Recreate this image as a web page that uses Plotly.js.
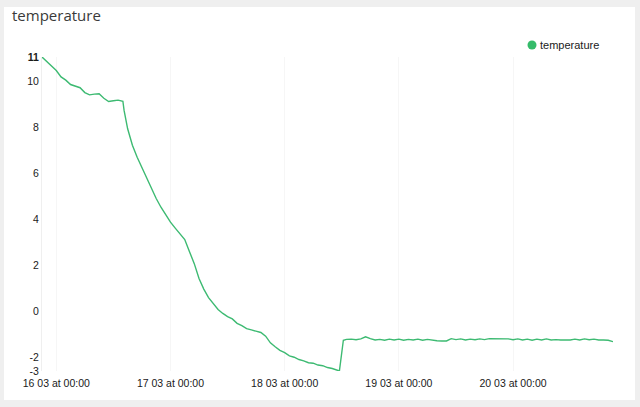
<!DOCTYPE html>
<html>
<head>
<meta charset="utf-8">
<script src="https://cdn.plot.ly/plotly-3.0.1.min.js"></script>
<style>
  html, body { margin: 0; padding: 0; background: #efefef; }
  #card { position: absolute; left: 4px; top: 7px; width: 631px; height: 393px; background: #ffffff; }
  #chart { position: absolute; left: 0; top: 0; width: 640px; height: 407px; }
</style>
</head>
<body>
<div id="card"></div>
<div id="chart"></div>
<script>
const times = [
  "2021-03-15 21:00","2021-03-15 22:00","2021-03-15 23:00",
  "2021-03-16 00:00","2021-03-16 01:00","2021-03-16 02:00","2021-03-16 03:00","2021-03-16 04:00","2021-03-16 05:00",
  "2021-03-16 06:00","2021-03-16 07:00","2021-03-16 08:00","2021-03-16 09:00","2021-03-16 10:00","2021-03-16 11:00",
  "2021-03-16 12:00","2021-03-16 13:00","2021-03-16 14:00","2021-03-16 14:15","2021-03-16 15:00","2021-03-16 16:00",
  "2021-03-16 17:00","2021-03-16 18:00","2021-03-16 19:00","2021-03-16 20:00","2021-03-16 21:00","2021-03-16 22:00","2021-03-16 23:00",
  "2021-03-17 00:00","2021-03-17 01:00","2021-03-17 02:00","2021-03-17 03:00","2021-03-17 04:00","2021-03-17 05:00",
  "2021-03-17 06:00","2021-03-17 07:00","2021-03-17 08:00","2021-03-17 09:00","2021-03-17 10:00","2021-03-17 11:00",
  "2021-03-17 12:00","2021-03-17 13:00","2021-03-17 14:00","2021-03-17 15:00","2021-03-17 16:00","2021-03-17 17:00",
  "2021-03-17 18:00","2021-03-17 19:00","2021-03-17 20:00","2021-03-17 21:00","2021-03-17 22:00","2021-03-17 23:00",
  "2021-03-18 00:00","2021-03-18 01:00","2021-03-18 02:00","2021-03-18 03:00","2021-03-18 04:00","2021-03-18 05:00",
  "2021-03-18 06:00","2021-03-18 07:00","2021-03-18 08:00","2021-03-18 09:00","2021-03-18 10:00","2021-03-18 11:00",
  "2021-03-18 11:30","2021-03-18 12:20","2021-03-18 13:00","2021-03-18 14:00","2021-03-18 15:00","2021-03-18 16:00",
  "2021-03-18 17:00","2021-03-18 18:00","2021-03-18 19:00","2021-03-18 20:00","2021-03-18 21:00","2021-03-18 22:00","2021-03-18 23:00",
  "2021-03-19 00:00","2021-03-19 01:00","2021-03-19 02:00","2021-03-19 03:00","2021-03-19 04:00","2021-03-19 05:00",
  "2021-03-19 06:00","2021-03-19 07:00","2021-03-19 08:00","2021-03-19 09:00","2021-03-19 10:00","2021-03-19 11:00",
  "2021-03-19 12:00","2021-03-19 13:00","2021-03-19 14:00","2021-03-19 15:00","2021-03-19 16:00","2021-03-19 17:00",
  "2021-03-19 18:00","2021-03-19 19:00","2021-03-19 20:00","2021-03-19 21:00","2021-03-19 22:00","2021-03-19 23:00",
  "2021-03-20 00:00","2021-03-20 01:00","2021-03-20 02:00","2021-03-20 03:00","2021-03-20 04:00","2021-03-20 05:00",
  "2021-03-20 06:00","2021-03-20 07:00","2021-03-20 08:00","2021-03-20 09:00","2021-03-20 10:00","2021-03-20 11:00",
  "2021-03-20 12:00","2021-03-20 13:00","2021-03-20 14:00","2021-03-20 15:00","2021-03-20 16:00","2021-03-20 17:00",
  "2021-03-20 18:00","2021-03-20 19:00","2021-03-20 20:00","2021-03-20 21:00"
];
const temperature = [
  11.08, 10.89, 10.70,
  10.49, 10.21, 10.07, 9.88, 9.81, 9.74,
  9.53, 9.43, 9.46, 9.48, 9.28, 9.14,
  9.17, 9.20, 9.15, 8.75, 7.95, 7.23,
  6.71, 6.26, 5.77, 5.31, 4.91, 4.53, 4.19,
  3.88, 3.62, 3.35, 3.12, 2.59, 2.07,
  1.42, 0.96, 0.59, 0.31, 0.07, -0.10,
  -0.24, -0.34, -0.53, -0.63, -0.76, -0.82,
  -0.87, -0.93, -1.09, -1.38, -1.55, -1.71,
  -1.81, -1.95, -2.01, -2.11, -2.17, -2.25,
  -2.27, -2.35, -2.38, -2.46, -2.50, -2.58,
  -2.61, -1.27, -1.23, -1.22, -1.25, -1.21,
  -1.12, -1.20, -1.26, -1.23, -1.27, -1.22, -1.26,
  -1.22, -1.27, -1.23, -1.26, -1.22, -1.27,
  -1.23, -1.27, -1.29, -1.30, -1.30, -1.20,
  -1.24, -1.21, -1.26, -1.22, -1.25, -1.21,
  -1.24, -1.20, -1.20, -1.21, -1.20, -1.21,
  -1.25, -1.21, -1.26, -1.22, -1.27, -1.22,
  -1.26, -1.21, -1.26, -1.24, -1.26, -1.26,
  -1.26, -1.22, -1.26, -1.21, -1.25, -1.22,
  -1.26, -1.26, -1.27, -1.33
];
const xTickVals = ["2021-03-16 00:00","2021-03-17 00:00","2021-03-18 00:00","2021-03-19 00:00","2021-03-20 00:00"];
const yTickVals = [-2.61, -2, 0, 2, 4, 6, 8, 10, 11.08];
const yTickText = ["-3", "-2", "0", "2", "4", "6", "8", "10", "<b>11</b>"];
const seriesName = "temperature";
const chartTitle = "temperature";

const green = "#3dba72";
const tickFont = {family: "Liberation Sans Narrow, Arial Narrow, Liberation Sans, Arial, sans-serif", size: 10.5, color: "#1a1a1a"};

const data = [
  {x: times, y: temperature, type: "scatter", mode: "lines", name: seriesName,
   line: {color: green, width: 1.4}, showlegend: false, hoverinfo: "x+y"}
];

// legend: plot area spans x 42..613 px, y 57..371 px
const plotW = 640 - 42 - 27, plotH = 407 - 57 - 36;
const legCx = (532 - 42) / plotW, legCy = (371 - 45) / plotH;
const rX = 4.5 / plotW, rY = 4.5 / plotH;

const layout = {
  width: 640, height: 407,
  paper_bgcolor: "rgba(0,0,0,0)", plot_bgcolor: "rgba(0,0,0,0)",
  margin: {l: 42, r: 27, t: 57, b: 36, pad: 0},
  title: {text: chartTitle, xref: "container", yref: "container", x: 12/640, xanchor: "left",
          y: 1 - 16/407, yanchor: "middle",
          font: {family: "Open Sans, sans-serif", size: 15, color: "#3a3a3a"}},
  showlegend: false,
  shapes: [
    {type: "circle", xref: "paper", yref: "paper", x0: legCx - rX, x1: legCx + rX, y0: legCy - rY, y1: legCy + rY,
     fillcolor: "#35bb6a", line: {width: 0}}
  ],
  annotations: [
    {text: seriesName, xref: "paper", yref: "paper", x: (538 - 42) / plotW, y: legCy,
     xanchor: "left", yanchor: "middle", showarrow: false,
     font: {family: tickFont.family, size: 11, color: "#1a1a1a"}}
  ],
  xaxis: {type: "date", range: [times[0], times[times.length - 1]],
          tickvals: xTickVals, tickformat: "%d %m at %H:%M",
          showgrid: true, gridcolor: "#f6f6f6", gridwidth: 1, ticklabelstandoff: 4,
          showline: false, zeroline: false, ticks: "", tickfont: tickFont, fixedrange: true},
  yaxis: {range: [-2.61, 11.08], tickvals: yTickVals, ticktext: yTickText,
          showgrid: false, zeroline: false, showline: true, linecolor: "#efefef", linewidth: 1,
          ticks: "", tickfont: tickFont, fixedrange: true}
};

Plotly.newPlot("chart", data, layout, {displayModeBar: false, staticPlot: true});
</script>
</body>
</html>
